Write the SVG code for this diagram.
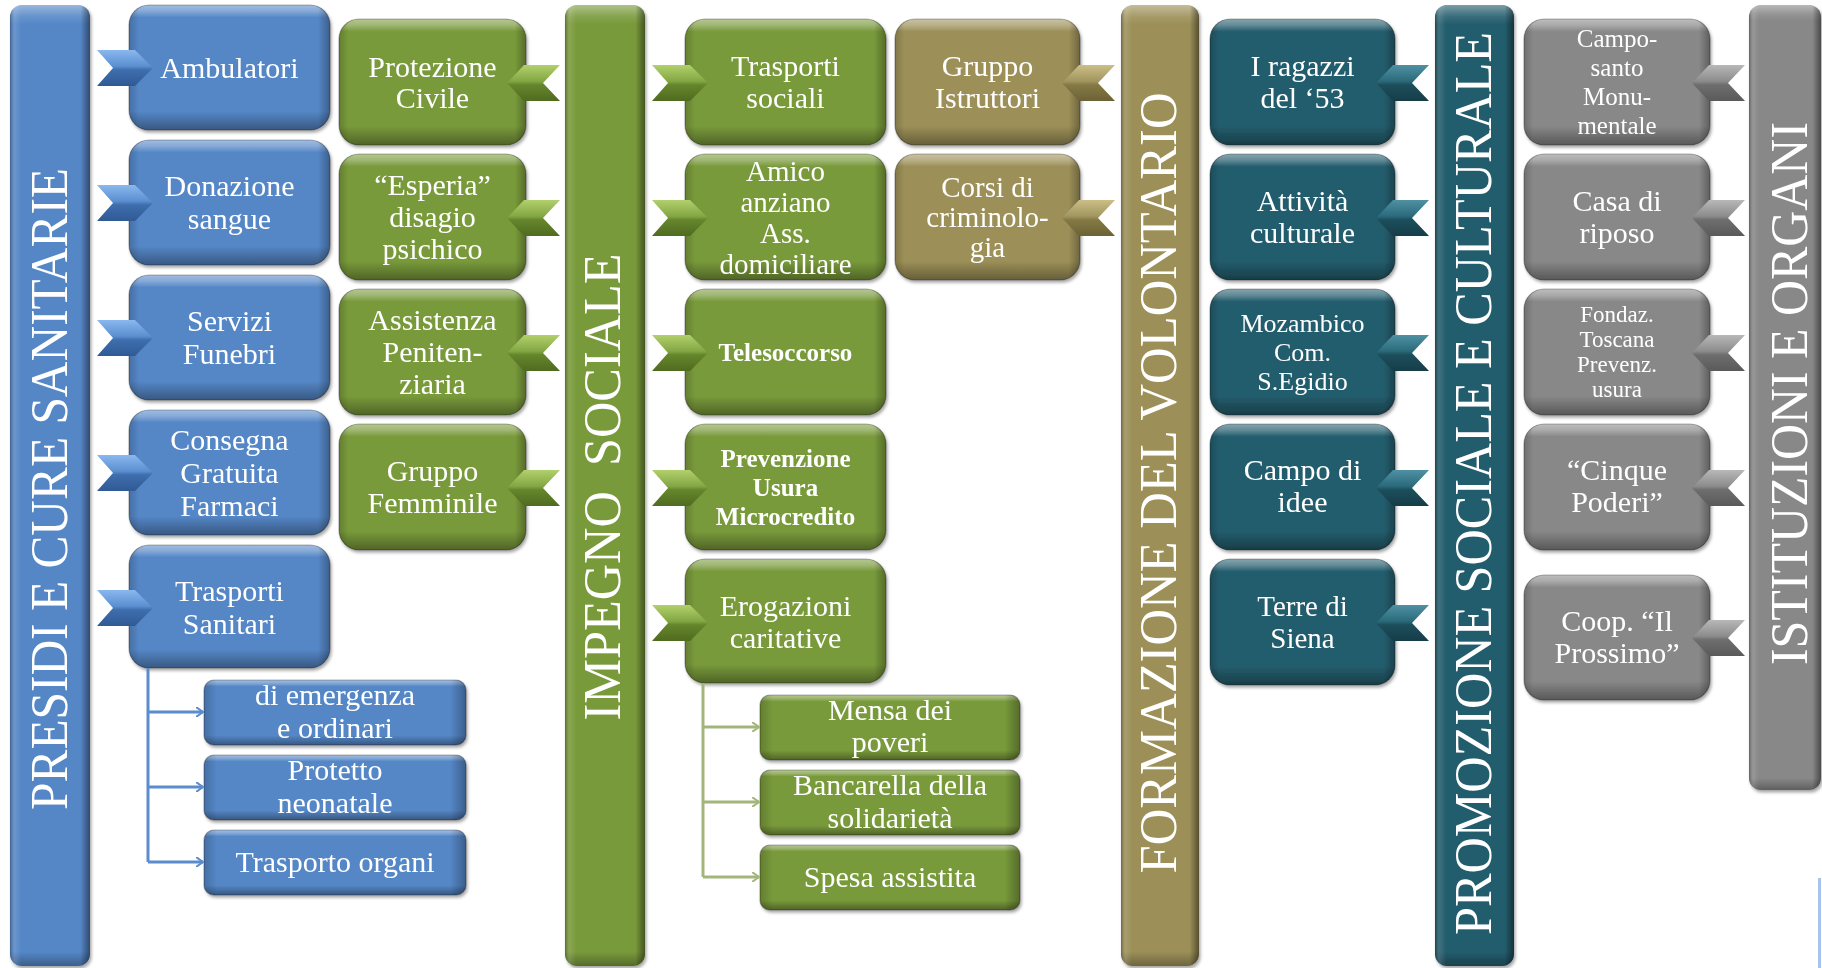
<svg xmlns="http://www.w3.org/2000/svg" width="1822" height="968" viewBox="0 0 1822 968">
<style>
.t{font-family:"Liberation Serif","Times New Roman",serif;fill:#fff;text-anchor:middle;font-size:30px}
.f29{font-size:29px}.f26{font-size:26px}.f25{font-size:25px}.f23{font-size:23px}
.b{font-weight:bold}
.bar{font-size:52px}
.nb{fill:#5587c7}.ng{fill:#799a3b}.no{fill:#9c9058}.nt{fill:#245d6d}.ny{fill:#888}
.bv{fill:url(#bevV)}.bh{fill:url(#bevH)}
.ol{fill:none;stroke:rgba(0,0,0,.28);stroke-width:1.2}
.barv{fill:url(#barV)}.barh{fill:url(#barH)}
.cb{stroke:#5b8ccb;stroke-width:3;fill:none}
.cg{stroke:#a3b57b;stroke-width:3;fill:none}
</style>
<defs>
<linearGradient id="bevV" x1="0" y1="0" x2="0" y2="1">
<stop offset="0" stop-color="#fff" stop-opacity=".45"/><stop offset=".05" stop-color="#fff" stop-opacity=".28"/><stop offset=".1" stop-color="#fff" stop-opacity="0"/><stop offset=".85" stop-color="#000" stop-opacity="0"/><stop offset="1" stop-color="#000" stop-opacity=".35"/>
</linearGradient>
<linearGradient id="bevH" x1="0" y1="0" x2="1" y2="0">
<stop offset="0" stop-color="#000" stop-opacity=".18"/><stop offset=".05" stop-color="#000" stop-opacity="0"/><stop offset=".94" stop-color="#000" stop-opacity="0"/><stop offset="1" stop-color="#000" stop-opacity=".3"/>
</linearGradient>
<linearGradient id="barV" x1="0" y1="0" x2="0" y2="1">
<stop offset="0" stop-color="#fff" stop-opacity=".4"/><stop offset=".012" stop-color="#fff" stop-opacity=".1"/><stop offset=".02" stop-color="#fff" stop-opacity="0"/><stop offset=".985" stop-color="#000" stop-opacity="0"/><stop offset="1" stop-color="#000" stop-opacity=".3"/>
</linearGradient>
<linearGradient id="barH" x1="0" y1="0" x2="1" y2="0">
<stop offset="0" stop-color="#000" stop-opacity=".3"/><stop offset=".06" stop-color="#fff" stop-opacity=".12"/><stop offset=".14" stop-color="#fff" stop-opacity="0"/><stop offset=".88" stop-color="#000" stop-opacity="0"/><stop offset="1" stop-color="#000" stop-opacity=".45"/>
</linearGradient>
<linearGradient id="chB" x1="0" y1="0" x2="0" y2="1"><stop offset="0" stop-color="#8ab8ef"/><stop offset=".45" stop-color="#5b8fd0"/><stop offset=".55" stop-color="#3f6eae"/><stop offset="1" stop-color="#2f5a94"/></linearGradient>
<linearGradient id="chG" x1="0" y1="0" x2="0" y2="1"><stop offset="0" stop-color="#b2d06c"/><stop offset=".45" stop-color="#83a744"/><stop offset=".55" stop-color="#66862c"/><stop offset="1" stop-color="#4f6b20"/></linearGradient>
<linearGradient id="chO" x1="0" y1="0" x2="0" y2="1"><stop offset="0" stop-color="#cbbf86"/><stop offset=".45" stop-color="#a29660"/><stop offset=".55" stop-color="#857a45"/><stop offset="1" stop-color="#6b6236"/></linearGradient>
<linearGradient id="chT" x1="0" y1="0" x2="0" y2="1"><stop offset="0" stop-color="#4f91a3"/><stop offset=".45" stop-color="#2a6a7b"/><stop offset=".55" stop-color="#1d4e5c"/><stop offset="1" stop-color="#153d48"/></linearGradient>
<linearGradient id="chY" x1="0" y1="0" x2="0" y2="1"><stop offset="0" stop-color="#b8b8b8"/><stop offset=".45" stop-color="#8c8c8c"/><stop offset=".55" stop-color="#6e6e6e"/><stop offset="1" stop-color="#5a5a5a"/></linearGradient>
<path id="chR" d="M0,-18 L38,-18 L56,0 L38,18 L0,18 L16,0 Z"/>
<path id="chL" d="M0,0 L17,-18 L53,-18 L36,0 L53,18 L17,18 Z"/>
<marker id="ab" viewBox="0 0 8 10" refX="7" refY="5" markerWidth="8" markerHeight="10" markerUnits="userSpaceOnUse" orient="auto"><path d="M0,0 L7,5 L0,10" fill="none" stroke="#5b8ccb" stroke-width="2"/></marker>
<marker id="ag" viewBox="0 0 8 10" refX="7" refY="5" markerWidth="8" markerHeight="10" markerUnits="userSpaceOnUse" orient="auto"><path d="M0,0 L7,5 L0,10" fill="none" stroke="#a3b57b" stroke-width="2"/></marker>
<filter id="sh" x="-10%" y="-10%" width="120%" height="120%"><feDropShadow dx="1.5" dy="2.5" stdDeviation="1.8" flood-color="#000" flood-opacity=".35"/></filter>
</defs>

<rect x="1818" y="878" width="3" height="90" fill="#a9c4ea"/>

<!-- Bars -->
<g id="bar-presidi" filter="url(#sh)">
<rect class="nb" x="10" y="5" width="80" height="961" rx="12"/><rect class="barv" x="10" y="5" width="80" height="961" rx="12"/><rect class="barh" x="10" y="5" width="80" height="961" rx="12"/>
<text class="t bar" transform="translate(67,489) rotate(-90)" textLength="642" lengthAdjust="spacingAndGlyphs">PRESIDI E CURE SANITARIE</text>
</g>
<g id="bar-impegno" filter="url(#sh)">
<rect class="ng" x="565" y="5" width="80" height="961" rx="12"/><rect class="barv" x="565" y="5" width="80" height="961" rx="12"/><rect class="barh" x="565" y="5" width="80" height="961" rx="12"/>
<text class="t bar" transform="translate(620,487) rotate(-90)" textLength="467" lengthAdjust="spacingAndGlyphs" xml:space="preserve">IMPEGNO  SOCIALE</text>
</g>
<g id="bar-formazione" filter="url(#sh)">
<rect class="no" x="1121" y="5" width="78" height="961" rx="12"/><rect class="barv" x="1121" y="5" width="78" height="961" rx="12"/><rect class="barh" x="1121" y="5" width="78" height="961" rx="12"/>
<text class="t bar" transform="translate(1176,483) rotate(-90)" textLength="781" lengthAdjust="spacingAndGlyphs">FORMAZIONE DEL VOLONTARIO</text>
</g>
<g id="bar-promozione" filter="url(#sh)">
<rect class="nt" x="1435" y="5" width="79" height="961" rx="12"/><rect class="barv" x="1435" y="5" width="79" height="961" rx="12"/><rect class="barh" x="1435" y="5" width="79" height="961" rx="12"/>
<text class="t bar" transform="translate(1491,483.5) rotate(-90)" textLength="903" lengthAdjust="spacingAndGlyphs">PROMOZIONE SOCIALE E CULTURALE</text>
</g>
<g id="bar-istituzioni" filter="url(#sh)">
<rect class="ny" x="1749" y="5" width="72" height="785" rx="12"/><rect class="barv" x="1749" y="5" width="72" height="785" rx="12"/><rect class="barh" x="1749" y="5" width="72" height="785" rx="12"/>
<text class="t bar" transform="translate(1807,393.5) rotate(-90)" textLength="543" lengthAdjust="spacingAndGlyphs">ISTITUZIONI E ORGANI</text>
</g>

<!-- Blue column -->
<g id="ambulatori" filter="url(#sh)"><rect class="nb" x="129" y="5" width="201" height="125" rx="20"/><rect class="bv" x="129" y="5" width="201" height="125" rx="20"/><rect class="bh" x="129" y="5" width="201" height="125" rx="20"/><rect class="ol" x="129" y="5" width="201" height="125" rx="20"/>
<text class="t" x="229.5" y="78">Ambulatori</text></g>
<g id="donazione" filter="url(#sh)"><rect class="nb" x="129" y="140" width="201" height="125" rx="20"/><rect class="bv" x="129" y="140" width="201" height="125" rx="20"/><rect class="bh" x="129" y="140" width="201" height="125" rx="20"/><rect class="ol" x="129" y="140" width="201" height="125" rx="20"/>
<text class="t"><tspan x="229.5" y="196">Donazione</tspan><tspan x="229.5" y="229">sangue</tspan></text></g>
<g id="servizi" filter="url(#sh)"><rect class="nb" x="129" y="275" width="201" height="125" rx="20"/><rect class="bv" x="129" y="275" width="201" height="125" rx="20"/><rect class="bh" x="129" y="275" width="201" height="125" rx="20"/><rect class="ol" x="129" y="275" width="201" height="125" rx="20"/>
<text class="t"><tspan x="229.5" y="331">Servizi</tspan><tspan x="229.5" y="364">Funebri</tspan></text></g>
<g id="consegna" filter="url(#sh)"><rect class="nb" x="129" y="410" width="201" height="125" rx="20"/><rect class="bv" x="129" y="410" width="201" height="125" rx="20"/><rect class="bh" x="129" y="410" width="201" height="125" rx="20"/><rect class="ol" x="129" y="410" width="201" height="125" rx="20"/>
<text class="t"><tspan x="229.5" y="450">Consegna</tspan><tspan x="229.5" y="483">Gratuita</tspan><tspan x="229.5" y="516">Farmaci</tspan></text></g>
<g id="trasporti-sanitari" filter="url(#sh)"><rect class="nb" x="129" y="545" width="201" height="123" rx="20"/><rect class="bv" x="129" y="545" width="201" height="123" rx="20"/><rect class="bh" x="129" y="545" width="201" height="123" rx="20"/><rect class="ol" x="129" y="545" width="201" height="123" rx="20"/>
<text class="t"><tspan x="229.5" y="601">Trasporti</tspan><tspan x="229.5" y="634">Sanitari</tspan></text></g>
<g id="emergenza" filter="url(#sh)"><rect class="nb" x="204" y="680" width="262" height="65" rx="10"/><rect class="bv" x="204" y="680" width="262" height="65" rx="10"/><rect class="bh" x="204" y="680" width="262" height="65" rx="10"/><rect class="ol" x="204" y="680" width="262" height="65" rx="10"/>
<text class="t"><tspan x="335" y="705">di emergenza</tspan><tspan x="335" y="738">e ordinari</tspan></text></g>
<g id="neonatale" filter="url(#sh)"><rect class="nb" x="204" y="755" width="262" height="65" rx="10"/><rect class="bv" x="204" y="755" width="262" height="65" rx="10"/><rect class="bh" x="204" y="755" width="262" height="65" rx="10"/><rect class="ol" x="204" y="755" width="262" height="65" rx="10"/>
<text class="t"><tspan x="335" y="780">Protetto</tspan><tspan x="335" y="813">neonatale</tspan></text></g>
<g id="organi" filter="url(#sh)"><rect class="nb" x="204" y="830" width="262" height="65" rx="10"/><rect class="bv" x="204" y="830" width="262" height="65" rx="10"/><rect class="bh" x="204" y="830" width="262" height="65" rx="10"/><rect class="ol" x="204" y="830" width="262" height="65" rx="10"/>
<text class="t" x="335" y="872">Trasporto organi</text></g>

<!-- Green column 2 -->
<g id="protezione" filter="url(#sh)"><rect class="ng" x="339" y="19" width="187" height="126" rx="20"/><rect class="bv" x="339" y="19" width="187" height="126" rx="20"/><rect class="bh" x="339" y="19" width="187" height="126" rx="20"/><rect class="ol" x="339" y="19" width="187" height="126" rx="20"/>
<text class="t"><tspan x="432.5" y="77">Protezione</tspan><tspan x="432.5" y="108">Civile</tspan></text></g>
<g id="esperia" filter="url(#sh)"><rect class="ng" x="339" y="154" width="187" height="126" rx="20"/><rect class="bv" x="339" y="154" width="187" height="126" rx="20"/><rect class="bh" x="339" y="154" width="187" height="126" rx="20"/><rect class="ol" x="339" y="154" width="187" height="126" rx="20"/>
<text class="t"><tspan x="432.5" y="195">“Esperia”</tspan><tspan x="432.5" y="227">disagio</tspan><tspan x="432.5" y="259">psichico</tspan></text></g>
<g id="penitenziaria" filter="url(#sh)"><rect class="ng" x="339" y="289" width="187" height="126" rx="20"/><rect class="bv" x="339" y="289" width="187" height="126" rx="20"/><rect class="bh" x="339" y="289" width="187" height="126" rx="20"/><rect class="ol" x="339" y="289" width="187" height="126" rx="20"/>
<text class="t"><tspan x="432.5" y="330">Assistenza</tspan><tspan x="432.5" y="362">Peniten-</tspan><tspan x="432.5" y="394">ziaria</tspan></text></g>
<g id="femminile" filter="url(#sh)"><rect class="ng" x="339" y="424" width="187" height="126" rx="20"/><rect class="bv" x="339" y="424" width="187" height="126" rx="20"/><rect class="bh" x="339" y="424" width="187" height="126" rx="20"/><rect class="ol" x="339" y="424" width="187" height="126" rx="20"/>
<text class="t"><tspan x="432.5" y="481">Gruppo</tspan><tspan x="432.5" y="513">Femminile</tspan></text></g>

<!-- Green column 3 -->
<g id="trasporti-sociali" filter="url(#sh)"><rect class="ng" x="685" y="19" width="201" height="126" rx="20"/><rect class="bv" x="685" y="19" width="201" height="126" rx="20"/><rect class="bh" x="685" y="19" width="201" height="126" rx="20"/><rect class="ol" x="685" y="19" width="201" height="126" rx="20"/>
<text class="t"><tspan x="785.5" y="76">Trasporti</tspan><tspan x="785.5" y="108">sociali</tspan></text></g>
<g id="amico" filter="url(#sh)"><rect class="ng" x="685" y="154" width="201" height="126" rx="20"/><rect class="bv" x="685" y="154" width="201" height="126" rx="20"/><rect class="bh" x="685" y="154" width="201" height="126" rx="20"/><rect class="ol" x="685" y="154" width="201" height="126" rx="20"/>
<text class="t f29"><tspan x="785.5" y="181">Amico</tspan><tspan x="785.5" y="212">anziano</tspan><tspan x="785.5" y="243">Ass.</tspan><tspan x="785.5" y="274">domiciliare</tspan></text></g>
<g id="telesoccorso" filter="url(#sh)"><rect class="ng" x="685" y="289" width="201" height="126" rx="20"/><rect class="bv" x="685" y="289" width="201" height="126" rx="20"/><rect class="bh" x="685" y="289" width="201" height="126" rx="20"/><rect class="ol" x="685" y="289" width="201" height="126" rx="20"/>
<text class="t f25 b" x="785.5" y="361">Telesoccorso</text></g>
<g id="prevenzione" filter="url(#sh)"><rect class="ng" x="685" y="424" width="201" height="126" rx="20"/><rect class="bv" x="685" y="424" width="201" height="126" rx="20"/><rect class="bh" x="685" y="424" width="201" height="126" rx="20"/><rect class="ol" x="685" y="424" width="201" height="126" rx="20"/>
<text class="t f25 b"><tspan x="785.5" y="467">Prevenzione</tspan><tspan x="785.5" y="496">Usura</tspan><tspan x="785.5" y="525">Microcredito</tspan></text></g>
<g id="erogazioni" filter="url(#sh)"><rect class="ng" x="685" y="559" width="201" height="124" rx="20"/><rect class="bv" x="685" y="559" width="201" height="124" rx="20"/><rect class="bh" x="685" y="559" width="201" height="124" rx="20"/><rect class="ol" x="685" y="559" width="201" height="124" rx="20"/>
<text class="t"><tspan x="785.5" y="616">Erogazioni</tspan><tspan x="785.5" y="648">caritative</tspan></text></g>
<g id="mensa" filter="url(#sh)"><rect class="ng" x="760" y="695" width="260" height="65" rx="10"/><rect class="bv" x="760" y="695" width="260" height="65" rx="10"/><rect class="bh" x="760" y="695" width="260" height="65" rx="10"/><rect class="ol" x="760" y="695" width="260" height="65" rx="10"/>
<text class="t"><tspan x="890" y="720">Mensa dei</tspan><tspan x="890" y="752">poveri</tspan></text></g>
<g id="bancarella" filter="url(#sh)"><rect class="ng" x="760" y="770" width="260" height="65" rx="10"/><rect class="bv" x="760" y="770" width="260" height="65" rx="10"/><rect class="bh" x="760" y="770" width="260" height="65" rx="10"/><rect class="ol" x="760" y="770" width="260" height="65" rx="10"/>
<text class="t"><tspan x="890" y="795">Bancarella della</tspan><tspan x="890" y="828">solidarietà</tspan></text></g>
<g id="spesa" filter="url(#sh)"><rect class="ng" x="760" y="845" width="260" height="65" rx="10"/><rect class="bv" x="760" y="845" width="260" height="65" rx="10"/><rect class="bh" x="760" y="845" width="260" height="65" rx="10"/><rect class="ol" x="760" y="845" width="260" height="65" rx="10"/>
<text class="t" x="890" y="887">Spesa assistita</text></g>

<!-- Olive column -->
<g id="istruttori" filter="url(#sh)"><rect class="no" x="895" y="19" width="185" height="126" rx="20"/><rect class="bv" x="895" y="19" width="185" height="126" rx="20"/><rect class="bh" x="895" y="19" width="185" height="126" rx="20"/><rect class="ol" x="895" y="19" width="185" height="126" rx="20"/>
<text class="t"><tspan x="987.5" y="76">Gruppo</tspan><tspan x="987.5" y="108">Istruttori</tspan></text></g>
<g id="criminologia" filter="url(#sh)"><rect class="no" x="895" y="154" width="185" height="126" rx="20"/><rect class="bv" x="895" y="154" width="185" height="126" rx="20"/><rect class="bh" x="895" y="154" width="185" height="126" rx="20"/><rect class="ol" x="895" y="154" width="185" height="126" rx="20"/>
<text class="t f29"><tspan x="987.5" y="197">Corsi di</tspan><tspan x="987.5" y="227">criminolo-</tspan><tspan x="987.5" y="257">gia</tspan></text></g>

<!-- Teal column -->
<g id="ragazzi" filter="url(#sh)"><rect class="nt" x="1210" y="19" width="185" height="126" rx="20"/><rect class="bv" x="1210" y="19" width="185" height="126" rx="20"/><rect class="bh" x="1210" y="19" width="185" height="126" rx="20"/><rect class="ol" x="1210" y="19" width="185" height="126" rx="20"/>
<text class="t"><tspan x="1302.5" y="76">I ragazzi</tspan><tspan x="1302.5" y="108">del ‘53</tspan></text></g>
<g id="attivita" filter="url(#sh)"><rect class="nt" x="1210" y="154" width="185" height="126" rx="20"/><rect class="bv" x="1210" y="154" width="185" height="126" rx="20"/><rect class="bh" x="1210" y="154" width="185" height="126" rx="20"/><rect class="ol" x="1210" y="154" width="185" height="126" rx="20"/>
<text class="t"><tspan x="1302.5" y="211">Attività</tspan><tspan x="1302.5" y="243">culturale</tspan></text></g>
<g id="mozambico" filter="url(#sh)"><rect class="nt" x="1210" y="289" width="185" height="126" rx="20"/><rect class="bv" x="1210" y="289" width="185" height="126" rx="20"/><rect class="bh" x="1210" y="289" width="185" height="126" rx="20"/><rect class="ol" x="1210" y="289" width="185" height="126" rx="20"/>
<text class="t f26"><tspan x="1302.5" y="332">Mozambico</tspan><tspan x="1302.5" y="361">Com.</tspan><tspan x="1302.5" y="390">S.Egidio</tspan></text></g>
<g id="campo-idee" filter="url(#sh)"><rect class="nt" x="1210" y="424" width="185" height="126" rx="20"/><rect class="bv" x="1210" y="424" width="185" height="126" rx="20"/><rect class="bh" x="1210" y="424" width="185" height="126" rx="20"/><rect class="ol" x="1210" y="424" width="185" height="126" rx="20"/>
<text class="t"><tspan x="1302.5" y="480">Campo di</tspan><tspan x="1302.5" y="512">idee</tspan></text></g>
<g id="terre-siena" filter="url(#sh)"><rect class="nt" x="1210" y="559" width="185" height="126" rx="20"/><rect class="bv" x="1210" y="559" width="185" height="126" rx="20"/><rect class="bh" x="1210" y="559" width="185" height="126" rx="20"/><rect class="ol" x="1210" y="559" width="185" height="126" rx="20"/>
<text class="t f29"><tspan x="1302.5" y="616">Terre di</tspan><tspan x="1302.5" y="648">Siena</tspan></text></g>

<!-- Gray column -->
<g id="camposanto" filter="url(#sh)"><rect class="ny" x="1524" y="19" width="186" height="126" rx="20"/><rect class="bv" x="1524" y="19" width="186" height="126" rx="20"/><rect class="bh" x="1524" y="19" width="186" height="126" rx="20"/><rect class="ol" x="1524" y="19" width="186" height="126" rx="20"/>
<text class="t f25"><tspan x="1617" y="47">Campo-</tspan><tspan x="1617" y="76">santo</tspan><tspan x="1617" y="105">Monu-</tspan><tspan x="1617" y="134">mentale</tspan></text></g>
<g id="casa-riposo" filter="url(#sh)"><rect class="ny" x="1524" y="154" width="186" height="126" rx="20"/><rect class="bv" x="1524" y="154" width="186" height="126" rx="20"/><rect class="bh" x="1524" y="154" width="186" height="126" rx="20"/><rect class="ol" x="1524" y="154" width="186" height="126" rx="20"/>
<text class="t"><tspan x="1617" y="211">Casa di</tspan><tspan x="1617" y="243">riposo</tspan></text></g>
<g id="fondazione" filter="url(#sh)"><rect class="ny" x="1524" y="289" width="186" height="126" rx="20"/><rect class="bv" x="1524" y="289" width="186" height="126" rx="20"/><rect class="bh" x="1524" y="289" width="186" height="126" rx="20"/><rect class="ol" x="1524" y="289" width="186" height="126" rx="20"/>
<text class="t f23"><tspan x="1617" y="322">Fondaz.</tspan><tspan x="1617" y="347">Toscana</tspan><tspan x="1617" y="372">Prevenz.</tspan><tspan x="1617" y="397">usura</tspan></text></g>
<g id="cinque-poderi" filter="url(#sh)"><rect class="ny" x="1524" y="424" width="186" height="126" rx="20"/><rect class="bv" x="1524" y="424" width="186" height="126" rx="20"/><rect class="bh" x="1524" y="424" width="186" height="126" rx="20"/><rect class="ol" x="1524" y="424" width="186" height="126" rx="20"/>
<text class="t"><tspan x="1617" y="480">“Cinque</tspan><tspan x="1617" y="512">Poderi”</tspan></text></g>
<g id="coop-prossimo" filter="url(#sh)"><rect class="ny" x="1524" y="575" width="186" height="125" rx="20"/><rect class="bv" x="1524" y="575" width="186" height="125" rx="20"/><rect class="bh" x="1524" y="575" width="186" height="125" rx="20"/><rect class="ol" x="1524" y="575" width="186" height="125" rx="20"/>
<text class="t"><tspan x="1617" y="631">Coop. “Il</tspan><tspan x="1617" y="663">Prossimo”</tspan></text></g>

<!-- Connectors -->
<g id="connectors">
<use href="#chR" fill="url(#chB)" x="97" y="68"/>
<use href="#chR" fill="url(#chB)" x="97" y="203"/>
<use href="#chR" fill="url(#chB)" x="97" y="338"/>
<use href="#chR" fill="url(#chB)" x="97" y="473"/>
<use href="#chR" fill="url(#chB)" x="97" y="608"/>
<use href="#chL" fill="url(#chG)" x="507" y="83"/>
<use href="#chL" fill="url(#chG)" x="507" y="218"/>
<use href="#chL" fill="url(#chG)" x="507" y="353"/>
<use href="#chL" fill="url(#chG)" x="507" y="488"/>
<use href="#chR" fill="url(#chG)" x="652" y="83"/>
<use href="#chR" fill="url(#chG)" x="652" y="218"/>
<use href="#chR" fill="url(#chG)" x="652" y="353"/>
<use href="#chR" fill="url(#chG)" x="652" y="488"/>
<use href="#chR" fill="url(#chG)" x="652" y="623"/>
<use href="#chL" fill="url(#chO)" x="1062" y="83"/>
<use href="#chL" fill="url(#chO)" x="1062" y="218"/>
<use href="#chL" fill="url(#chT)" x="1376" y="83"/>
<use href="#chL" fill="url(#chT)" x="1376" y="218"/>
<use href="#chL" fill="url(#chT)" x="1376" y="353"/>
<use href="#chL" fill="url(#chT)" x="1376" y="488"/>
<use href="#chL" fill="url(#chT)" x="1376" y="623"/>
<use href="#chL" fill="url(#chY)" x="1692" y="83"/>
<use href="#chL" fill="url(#chY)" x="1692" y="218"/>
<use href="#chL" fill="url(#chY)" x="1692" y="353"/>
<use href="#chL" fill="url(#chY)" x="1692" y="488"/>
<use href="#chL" fill="url(#chY)" x="1692" y="638"/>
<path class="cb" d="M148,668 V862"/>
<path class="cb" d="M148,712 H203" marker-end="url(#ab)"/>
<path class="cb" d="M148,787 H203" marker-end="url(#ab)"/>
<path class="cb" d="M148,862 H203" marker-end="url(#ab)"/>
<path class="cg" d="M703,683 V877"/>
<path class="cg" d="M703,727 H759" marker-end="url(#ag)"/>
<path class="cg" d="M703,802 H759" marker-end="url(#ag)"/>
<path class="cg" d="M703,877 H759" marker-end="url(#ag)"/>
</g>
</svg>
